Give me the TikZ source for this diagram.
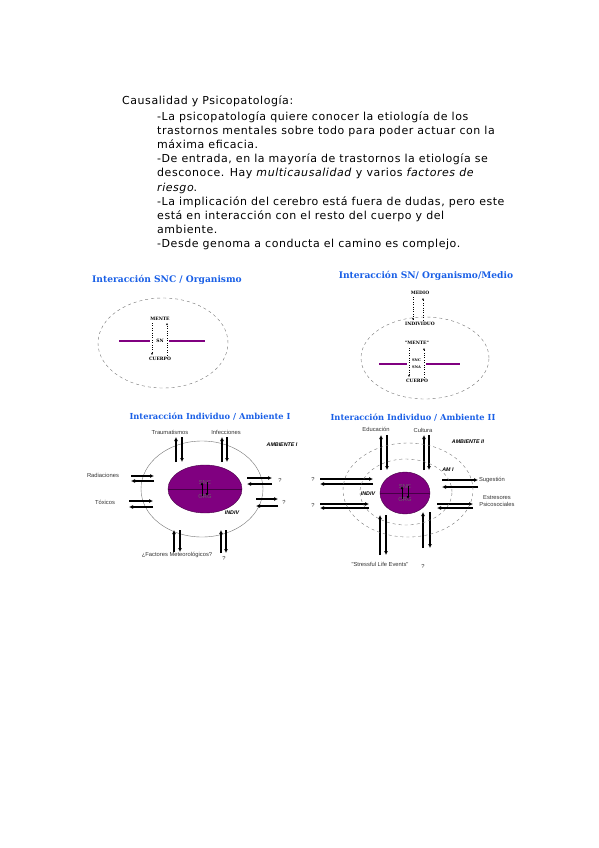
\documentclass[tikz,border=0pt]{standalone}
\usepackage{fontspec}
\setmainfont{DejaVu Sans}[LetterSpace=5]
\newfontfamily\headfont{DejaVu Serif}
\newfontfamily\labelfont{Liberation Sans}
\usetikzlibrary{arrows.meta,shapes.geometric}
\definecolor{titleblue}{RGB}{25,95,230}
\definecolor{cerebro}{RGB}{128,0,128}
\definecolor{cerebroline}{RGB}{70,0,70}
\tikzset{
  bigtitle/.style={font=\headfont\bfseries\fontsize{9.1}{11}\selectfont, text=titleblue, inner sep=0pt},
  smalltitle/.style={font=\headfont\bfseries\fontsize{8.3}{10}\selectfont, text=titleblue, inner sep=0pt},
  tag/.style={font=\headfont\bfseries\fontsize{4.5}{5}\selectfont, inner sep=0pt},
  minitag/.style={tag, font=\headfont\bfseries\fontsize{3.6}{4}\selectfont},
  factor/.style={font=\labelfont\fontsize{5.8}{6.8}\selectfont, text=black!80, inner sep=0pt, align=center},
  zone/.style={font=\labelfont\bfseries\itshape\fontsize{5.3}{6}\selectfont, inner sep=0pt},
  oval/.style={ellipse, inner sep=0pt, draw=black!55, thin},
  core/.style={ellipse, inner sep=0pt, draw=cerebroline, fill=cerebro},
  bar/.style={draw=cerebro, line width=2.4pt},
  link/.style={dotted, thin, -{Stealth[length=2.2pt,width=2pt]}},
  flow/.style={line width=1.2pt, -{Latex[length=4pt,width=4pt]}},
  twin/.style={line width=1pt, -{Latex[length=3pt,width=3pt]}}
}
\begin{document}
\begin{tikzpicture}[x=1pt, y=-1pt]
\useasboundingbox (0,0) rectangle (599,848);

% texto
\node[anchor=base west, inner sep=0pt, font=\fontsize{11}{14.1}\selectfont] (heading) at (122,105) {Causalidad y Psicopatología:};
\node[anchor=north west, inner sep=0pt, align=left, font=\fontsize{11}{14.1}\selectfont] (points) at (157,111.6) {%
-La psicopatología quiere conocer la etiología de los\\
trastornos mentales sobre todo para poder actuar con la\\
máxima eficacia.\\
-De entrada, en la mayoría de trastornos la etiología se\\
desconoce. Hay \textit{multicausalidad} y varios \textit{factores de}\\
\textit{riesgo}.\\
-La implicación del cerebro está fuera de dudas, pero este\\
está en interacción con el resto del cuerpo y del\\
ambiente.\\
-Desde genoma a conducta el camino es complejo.};

% SNC / Organismo
\node[bigtitle] (title1) at (167,280) {Interacción SNC / Organismo};
\node[oval, dashed, minimum width=130pt, minimum height=90pt] (body1) at (163,343) {};
\node[tag] (mente1) at (160,319) {MENTE};
\node[tag] (sn1) at (160,341) {SN};
\node[tag] (cuerpo1) at (160,359) {CUERPO};
\coordinate (bar1a) at (119,341); \coordinate (bar1b) at (150,341);
\coordinate (bar1c) at (169,341); \coordinate (bar1d) at (205,341);
\draw[bar] (bar1a) -- (bar1b);
\draw[bar] (bar1c) -- (bar1d);
\coordinate (dn1s) at (152,323); \coordinate (dn1e) at (152,355);
\coordinate (up1s) at (167,355); \coordinate (up1e) at (167,323);
\draw[link] (dn1s) -- (dn1e);
\draw[link] (up1s) -- (up1e);

% SN / Organismo / Medio
\node[bigtitle] (title2) at (426,276) {Interacción SN/ Organismo/Medio};
\node[tag] (medio) at (420,293) {MEDIO};
\node[tag] (indiv2) at (420,324) {INDIVIDUO};
\node[oval, dashed, minimum width=128pt, minimum height=82pt] (body2) at (425,358) {};
\node[tag] (mente2) at (417,343) {"MENTE"};
\node[minitag] (sn2) at (416.5,360) {SNC};
\node[minitag] (sna2) at (416.5,367) {SNA};
\node[tag] (cuerpo2) at (417,381) {CUERPO};
\coordinate (bar2a) at (379,364); \coordinate (bar2b) at (407,364);
\coordinate (bar2c) at (426,364); \coordinate (bar2d) at (460,364);
\draw[bar] (bar2a) -- (bar2b);
\draw[bar] (bar2c) -- (bar2d);
\coordinate (dn2s) at (413,297); \coordinate (dn2e) at (413,320);
\coordinate (up2s) at (423,320); \coordinate (up2e) at (423,298);
\draw[link] (dn2s) -- (dn2e);
\draw[link] (up2s) -- (up2e);
\coordinate (dn3s) at (409,348); \coordinate (dn3e) at (409,377);
\coordinate (up3s) at (424,377); \coordinate (up3e) at (424,348);
\draw[link] (dn3s) -- (dn3e);
\draw[link] (up3s) -- (up3e);

% Individuo / Ambiente I
\node[smalltitle] (title3) at (210,417) {Interacción Individuo / Ambiente I};
\node[oval, minimum width=122pt, minimum height=96pt] (env3) at (202,489) {};
\node[core, minimum width=74pt, minimum height=48pt] (core3) at (205,489) {};
\draw[cerebroline, thin] (core3.west) -- (core3.east);
\node[factor, text=black!60] (snc3) at (205,482) {SNC};
\node[factor, text=black!60] (org3) at (205,496) {ORG};
\coordinate (c3us) at (202,496); \coordinate (c3ue) at (202,482);
\coordinate (c3ds) at (207,482); \coordinate (c3de) at (207,496);
\draw[twin] (c3us) -- (c3ue);
\draw[twin] (c3ds) -- (c3de);
\node[zone] (amb3) at (282,445) {AMBIENTE I};
\node[zone] (indiv3) at (232,513) {INDIV};
\node[factor] (trauma) at (170,432) {Traumatismos};
\node[factor] (infec) at (226,432) {Infecciones};
\node[factor] (radia) at (103,475) {Radiaciones};
\node[factor] (toxic) at (105,502) {Tóxicos};
\node[factor] (q3a) at (280,480) {?};
\node[factor] (q3b) at (284,502) {?};
\node[factor] (meteo) at (177,555) {¿Factores Meteorológicos?};
\node[factor] (q3c) at (224,558) {?};
\foreach \n/\xu/\xd/\yt/\yb in {3tl/176/182/437/462, 3tr/222/227/437/462,
  3bl/174/180/530/552, 3br/221/226/530/553,
  4tl/381/387/435/470, 4tr/424/429/435/470,
  4bl/380/386/515/555, 4br/423/430/512/548} {
  \coordinate (up\n s) at (\xu,\yb); \coordinate (up\n e) at (\xu,\yt);
  \coordinate (dn\n s) at (\xd,\yt); \coordinate (dn\n e) at (\xd,\yb);
  \draw[flow] (up\n s) -- (up\n e);
  \draw[flow] (dn\n s) -- (dn\n e);
}
\foreach \n/\yr/\yl/\xl/\xr in {3lu/476/481/131/154, 3ll/501/507/129/153,
  3ru/478/484/247/272, 3rl/499/506/256/278,
  4lu/479/484/320/373, 4ll/504/508/320/369,
  4ru/480/487/442/478, 4rl/504/508/437/473} {
  \coordinate (rt\n s) at (\xl,\yr); \coordinate (rt\n e) at (\xr,\yr);
  \coordinate (lt\n s) at (\xr,\yl); \coordinate (lt\n e) at (\xl,\yl);
  \draw[flow] (rt\n s) -- (rt\n e);
  \draw[flow] (lt\n s) -- (lt\n e);
}

% Individuo / Ambiente II
\node[smalltitle] (title4) at (413,418) {Interacción Individuo / Ambiente II};
\node[oval, dashed, minimum width=130pt, minimum height=94pt] (env4) at (408,490) {};
\node[oval, dashed, minimum width=92pt, minimum height=66pt] (am4) at (406,492) {};
\node[core, minimum width=50pt, minimum height=42pt] (core4) at (405,493) {};
\draw[cerebroline, thin] (core4.west) -- (core4.east);
\node[factor, text=black!60] (snc4) at (405,486) {SNC};
\node[factor, text=black!60] (org4) at (405,499) {ORG};
\coordinate (c4us) at (402,499); \coordinate (c4ue) at (402,486);
\coordinate (c4ds) at (408,486); \coordinate (c4de) at (408,499);
\draw[twin] (c4us) -- (c4ue);
\draw[twin] (c4ds) -- (c4de);
\node[zone] (amb4) at (468,442) {AMBIENTE II};
\node[zone] (am1) at (448,470) {AM I};
\node[zone] (indiv4) at (368,494) {INDIV};
\node[factor] (educ) at (376,429) {Educación};
\node[factor] (cult) at (423,430) {Cultura};
\node[factor] (q4a) at (313,479) {?};
\node[factor] (q4b) at (313,505) {?};
\node[factor] (suges) at (492,480) {Sugestión};
\node[factor] (estres) at (497,501) {Estresores\\Psicosociales};
\node[factor] (stress) at (380,564) {"Stressful Life Events"};
\node[factor] (q4c) at (423,566) {?};
\end{tikzpicture}
\end{document}
